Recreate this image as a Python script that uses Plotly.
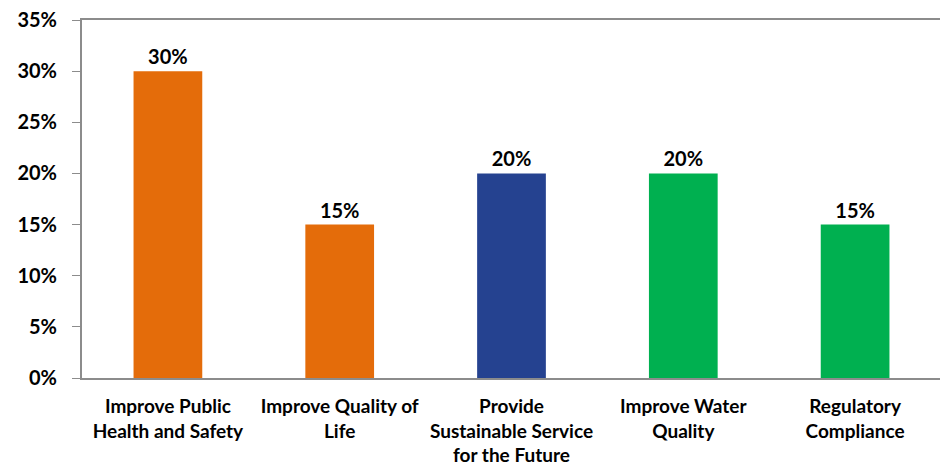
import plotly.graph_objects as go

categories = ["Improve Public<br>Health and Safety", "Improve Quality of<br>Life",
              "Provide<br>Sustainable Service<br>for the Future", "Improve Water<br>Quality",
              "Regulatory<br>Compliance"]
values = [0.30, 0.15, 0.20, 0.20, 0.15]
colors = ["#E46C0A", "#E46C0A", "#254290", "#00B050", "#00B050"]
labels = ["30%", "15%", "20%", "20%", "15%"]

FONT = "Lato"
fig = go.Figure(go.Bar(
    x=categories, y=values, marker_color=colors, marker_line_width=0,
    text=labels, textposition="outside", cliponaxis=False,
    textfont=dict(family=FONT, size=20, color="black", weight="bold"),
))
fig.update_layout(
    width=948, height=465, margin=dict(l=74, r=15, t=12, b=95),
    plot_bgcolor="white", paper_bgcolor="white", bargap=0.6, showlegend=False,
    font=dict(family=FONT, size=19, color="black", weight="bold"),
)
fig.update_yaxes(range=[0, 0.35], tickformat=".0%", dtick=0.05, showgrid=False,
                 showline=True, linecolor="#8c8c8c", linewidth=2, mirror=True,
                 ticks="outside", ticklen=8, tickcolor="#8c8c8c", ticklabelstandoff=11,
                 zeroline=False, automargin=False, tickfont=dict(size=20),
                 ticklabeloverflow="allow")
fig.update_xaxes(showline=True, linecolor="#8c8c8c", linewidth=2, mirror=True,
                 ticks="", showgrid=False, automargin=False, ticklabelstandoff=10,
                 ticklabeloverflow="allow")
fig.write_html("out.html")
